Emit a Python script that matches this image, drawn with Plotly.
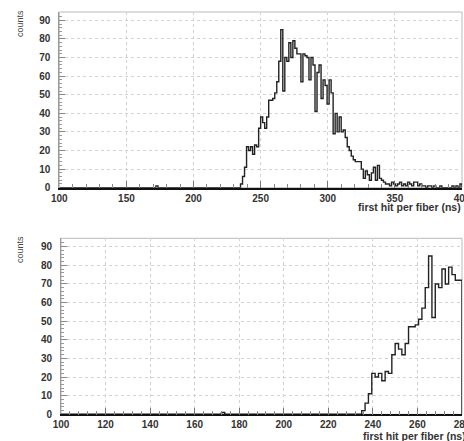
import numpy as np
import plotly.graph_objects as go

# ---- data: histogram of first hit per fiber, 1.5 ns bins from 100 to 400 ns ----
x_start = 100.0
bin_width = 1.5
counts = [
    0, 0, 0, 0, 0, 0, 0, 0, 0, 0,   # 100-115
    0, 0, 0, 0, 0, 0, 0, 0, 0, 0,   # 115-130
    0, 0, 0, 0, 0, 0, 0, 0, 0, 0,   # 130-145
    0, 0, 0, 0, 0, 0, 0, 0, 0, 0,   # 145-160
    0, 0, 0, 0, 0, 0, 0, 0, 1, 0,   # 160-175
    0, 0, 0, 0, 0, 0, 0, 0, 0, 0,   # 175-190
    0, 0, 0, 0, 0, 0, 0, 0, 0, 0,   # 190-205
    0, 0, 0, 0, 0, 0, 0, 0, 0, 0,   # 205-220
    0, 0, 0, 0, 0, 0, 0, 0, 0, 0,   # 220-235
    2, 6, 11, 22, 20, 22, 18, 23, 22, 32,    # 235-250
    38, 35, 32, 38, 47, 47, 48, 51, 57, 68,  # 250-265
    85, 52, 70, 68, 78, 70, 79, 75, 72, 72,  # 265-280
    57, 72, 71, 70, 58, 70, 66, 41, 62, 66,  # 280-295
    48, 58, 55, 45, 58, 51, 29, 40, 30, 38,  # 295-310
    30, 31, 27, 22, 20, 17, 15, 14, 14, 14,  # 310-325
    10, 5, 9, 7, 4, 8, 11, 4, 12, 5,         # 325-340
    4, 3, 2, 2, 1, 3, 2, 1, 2, 3,            # 340-355
    1, 2, 1, 3, 2, 1, 3, 3, 1, 2,            # 355-370
    1, 1, 0, 1, 1, 0, 1, 0, 0, 1,            # 370-385
    0, 0, 0, 0, 0, 1, 0, 1, 0, 2,            # 385-400
]
y_ticks = [0, 10, 20, 30, 40, 50, 60, 70, 80, 90]
top_range = [100, 400]
bottom_range = [100, 280]
x_title = "first hit per fiber (ns)"
y_title = "counts"

edges = x_start + bin_width * np.arange(len(counts) + 1)


def step_trace(lo, hi, xa, ya):
    sel = (edges >= lo - 1e-9) & (edges <= hi + 1e-9)
    ex = edges[sel]
    i0 = int(round((ex[0] - x_start) / bin_width))
    cy = list(counts[i0:i0 + len(ex) - 1]) + [0]
    return go.Scatter(x=ex, y=cy, mode="lines", line_shape="hv",
                      line=dict(color="#222222", width=1.4),
                      xaxis=xa, yaxis=ya, showlegend=False, hoverinfo="skip")


fig = go.Figure()
fig.add_trace(step_trace(top_range[0], top_range[1], "x", "y"))
fig.add_trace(step_trace(bottom_range[0], bottom_range[1], "x2", "y2"))

W, H = 464, 441
tickfont = dict(family="Liberation Sans, Arial, sans-serif", size=10, color="#333", weight="bold")

def xaxis(rng, dtick, minor_dtick, dom, anchor):
    return dict(range=rng, domain=dom, anchor=anchor, dtick=dtick, tick0=100,
                showgrid=True, gridcolor="#d2d2d2", griddash="dot", gridwidth=1,
                ticks="inside", ticklen=7, tickcolor="#777", tickwidth=1,
                minor=dict(dtick=minor_dtick, tick0=100, ticks="inside", ticklen=4,
                           tickcolor="#888", showgrid=False),
                showline=True, linecolor="#111", linewidth=1.6,
                zeroline=False, tickfont=tickfont, ticklabeloverflow="allow",
                automargin=False, fixedrange=True)

def yaxis(dom, anchor):
    return dict(range=[0, 94.5], domain=dom, anchor=anchor, tickvals=y_ticks,
                showgrid=True, gridcolor="#d2d2d2", griddash="dot", gridwidth=1,
                ticks="inside", ticklen=6, tickcolor="#888", tickwidth=1,
                minor=dict(dtick=2, ticks="inside", ticklen=3, tickcolor="#999", showgrid=False),
                showline=True, linecolor="#999", linewidth=1,
                zeroline=False, tickfont=tickfont, ticklabelstandoff=6,
                ticklabeloverflow="allow", automargin=False, fixedrange=True)

top_x_dom = [59.3 / W, 462 / W]
bot_x_dom = [61 / W, 462 / W]
top_y_dom = [1 - 187.7 / H, 1 - 12 / H]
bot_y_dom = [1 - 414.3 / H, 1 - 238.3 / H]

fig.update_layout(
    width=W, height=H, margin=dict(l=0, r=0, t=0, b=0, pad=0, autoexpand=False),
    paper_bgcolor="white", plot_bgcolor="white",
    xaxis=xaxis(top_range, 50, 10, top_x_dom, "y"),
    yaxis=yaxis(top_y_dom, "x"),
    xaxis2=xaxis(bottom_range, 20, 4, bot_x_dom, "y2"),
    yaxis2=yaxis(bot_y_dom, "x2"),
)

# light frame around each plot
for xr, yr in (("x domain", "y domain"), ("x2 domain", "y2 domain")):
    fig.add_shape(type="rect", xref=xr, yref=yr, x0=0, x1=1, y0=0, y1=1,
                  line=dict(color="#bbbbbb", width=1), layer="below")

titlefont = dict(family="Liberation Sans, Arial, sans-serif", size=10.5, color="#333", weight="bold")
fig.add_annotation(text=x_title, xref="paper", yref="paper", x=463 / W, y=1 - 207 / H,
                   xanchor="right", yanchor="middle", showarrow=False, font=titlefont)
fig.add_annotation(text=x_title, xref="paper", yref="paper", x=468 / W, y=1 - 436 / H,
                   xanchor="right", yanchor="middle", showarrow=False, font=titlefont)
ytfont = dict(family="Liberation Sans, Arial, sans-serif", size=9, color="#444")
fig.add_annotation(text=y_title, xref="paper", yref="paper", x=20 / W, y=1 - 24 / H,
                   textangle=-90, xanchor="center", yanchor="middle", showarrow=False, font=ytfont)
fig.add_annotation(text=y_title, xref="paper", yref="paper", x=20 / W, y=1 - 250 / H,
                   textangle=-90, xanchor="center", yanchor="middle", showarrow=False, font=ytfont)

fig.write_html("out.html")
